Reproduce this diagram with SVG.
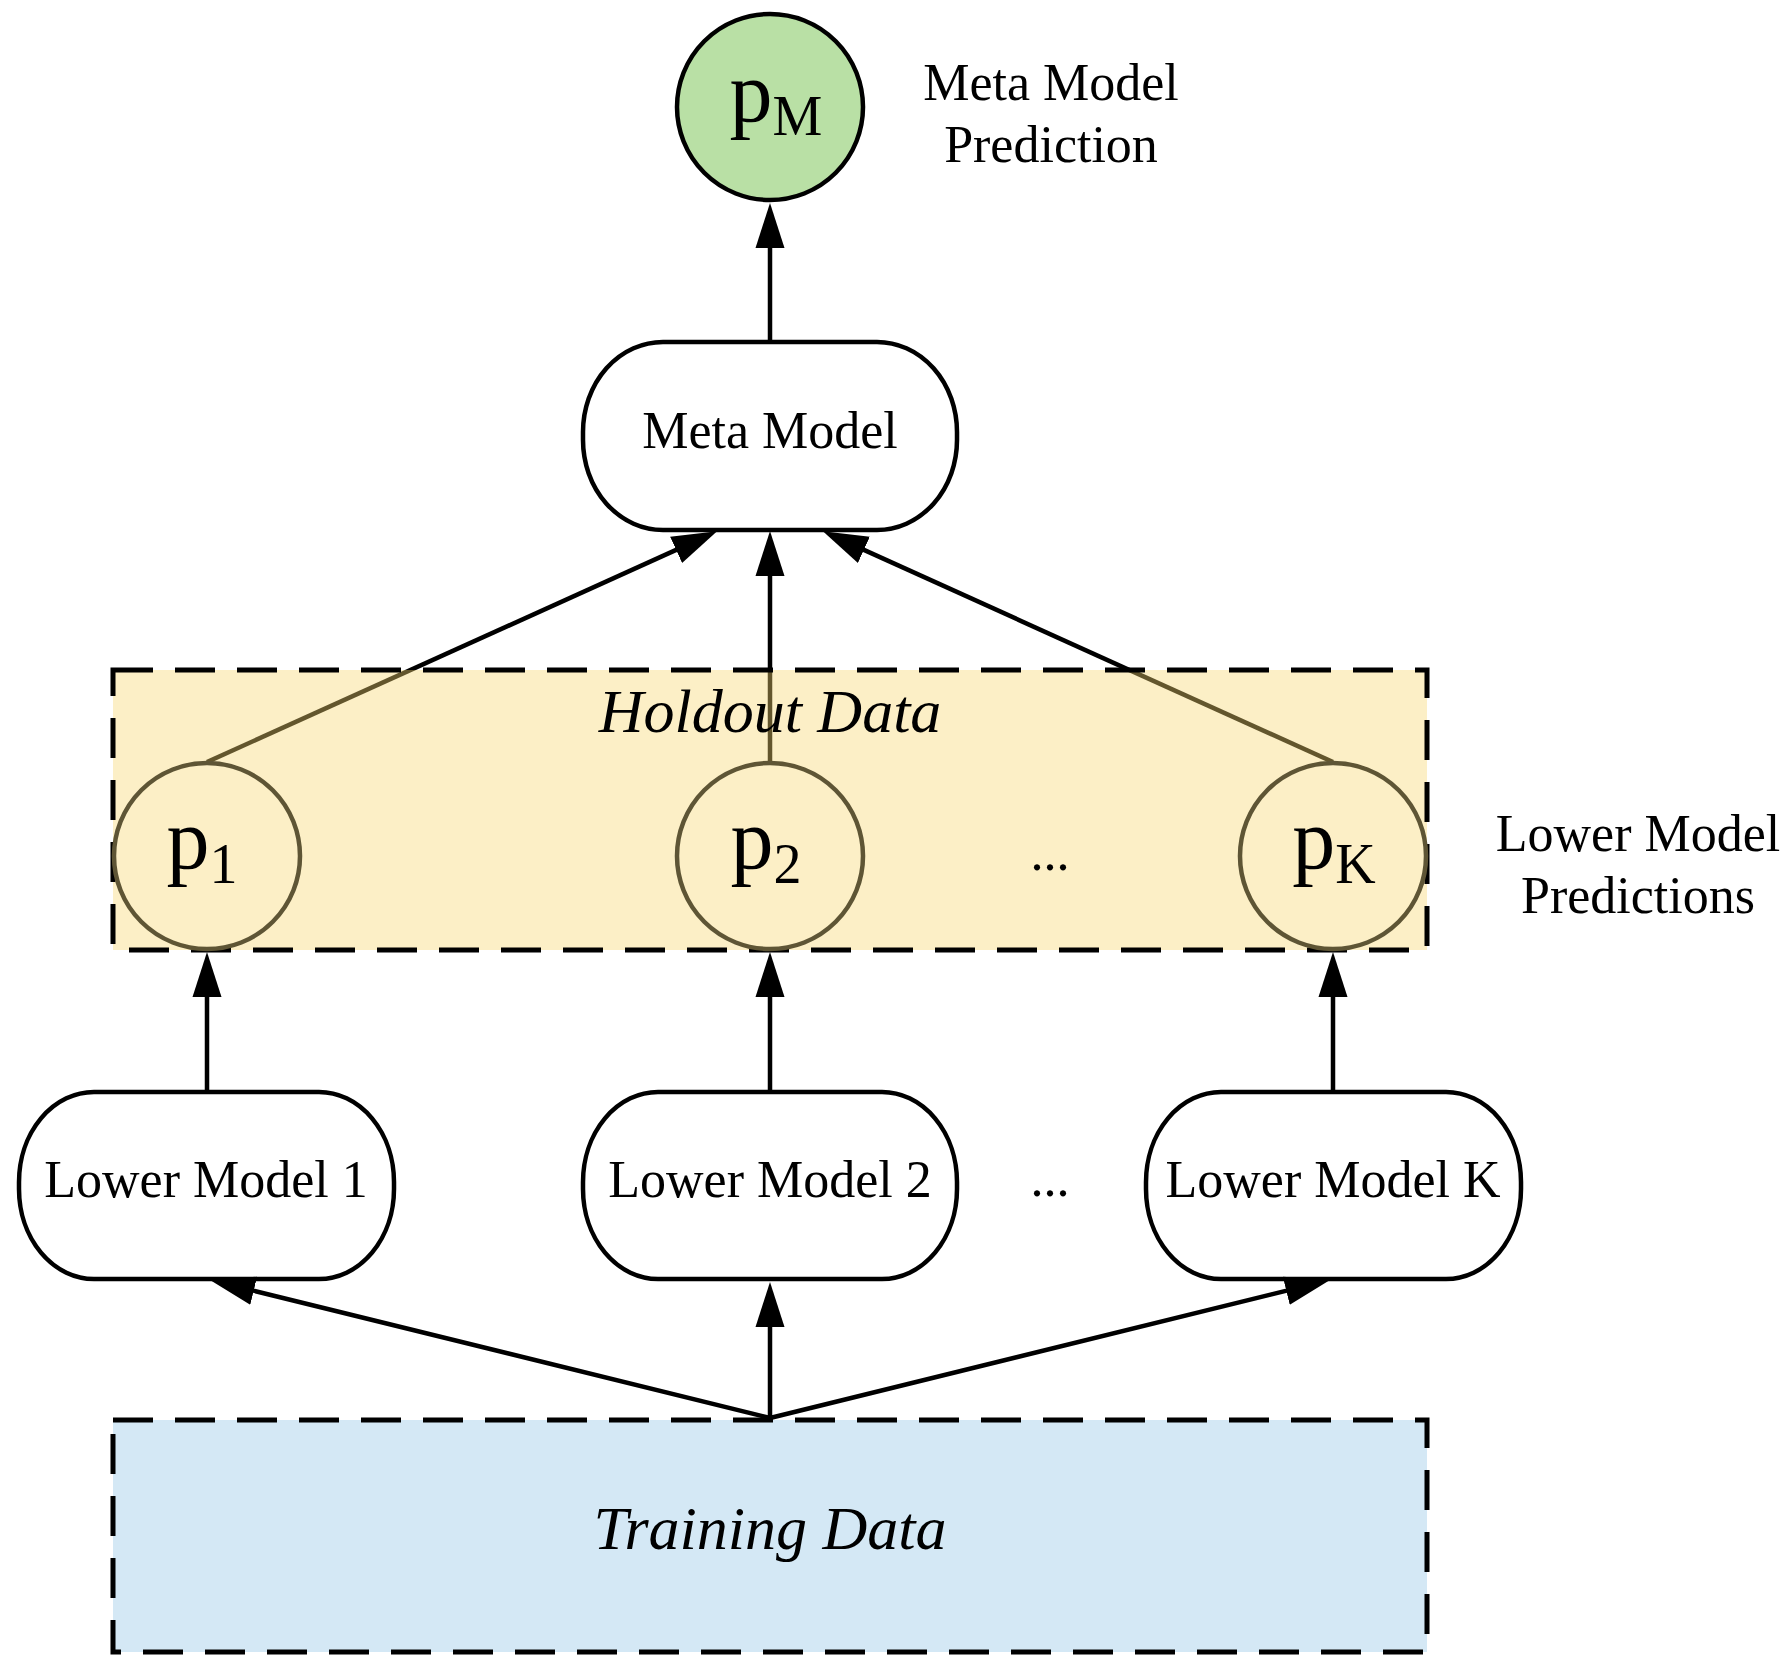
<svg xmlns="http://www.w3.org/2000/svg" width="1790" height="1655" viewBox="0 0 1790 1655">
  <defs>
    <marker id="arrow" markerUnits="userSpaceOnUse" markerWidth="48" markerHeight="32" viewBox="0 0 48 32" refX="34" refY="16" orient="auto">
      <path d="M0,1.5 L45,16 L0,30.5 Z" fill="#000"/>
    </marker>
  </defs>
  <style>
    .t { font-family: "Liberation Serif", "Times New Roman", serif; fill: #000; }
    .lbl { font-size: 52px; text-anchor: middle; }
    .it { font-size: 62px; font-style: italic; text-anchor: middle; }
    .pv { font-size: 86px; text-anchor: middle; }
    .sub { font-size: 56px; }
    .box { fill: #fff; stroke: #000; stroke-width: 4.5; }
    .dash { fill: none; stroke: #000; stroke-width: 5; stroke-dasharray: 40 22; }
    .edge { fill: none; stroke: #000; stroke-width: 4.5; marker-end: url(#arrow); }
    .pc { fill: #fcefc6; stroke: #5e5535; stroke-width: 4.5; }
  </style>
  <rect width="1790" height="1655" fill="#fff"/>

  <g id="training">
    <rect x="113" y="1420" width="1314" height="232" fill="#d4e8f5"/>
    <rect x="113" y="1420" width="1314" height="232" class="dash"/>
    <text class="t it" x="770" y="1549">Training Data</text>
  </g>

  <g id="lower1">
    <rect x="19" y="1092" width="375" height="187" rx="75" ry="90" class="box"/>
    <text class="t lbl" x="206" y="1197">Lower Model 1</text>
  </g>
  <g id="lower2">
    <rect x="583" y="1092" width="374" height="187" rx="75" ry="90" class="box"/>
    <text class="t lbl" x="770" y="1197">Lower Model 2</text>
  </g>
  <g id="lowerK">
    <rect x="1146" y="1092" width="375" height="187" rx="75" ry="90" class="box"/>
    <text class="t lbl" x="1333" y="1197">Lower Model K</text>
  </g>
  <g id="dots-lower">
    <text class="t lbl" x="1050" y="1196">...</text>
  </g>

  <g id="meta">
    <rect x="583" y="342" width="374" height="188" rx="80" ry="90" class="box"/>
    <text class="t lbl" x="770" y="448">Meta Model</text>
  </g>

  <g id="pM">
    <circle cx="770" cy="107" r="93" fill="#b9e0a5" stroke="#000" stroke-width="4.5"/>
    <text class="t pv" x="776" y="121">p<tspan class="sub" dy="14">M</tspan></text>
  </g>

  <g id="connectors">
    <line class="edge" x1="770" y1="342" x2="770" y2="214"/>
    <line class="edge" x1="207" y1="762" x2="707.1" y2="535.9"/>
    <line class="edge" x1="770" y1="762" x2="770" y2="542"/>
    <line class="edge" x1="1333" y1="762" x2="832.9" y2="535.9"/>
    <line class="edge" x1="207" y1="1092" x2="207" y2="963"/>
    <line class="edge" x1="770" y1="1092" x2="770" y2="963"/>
    <line class="edge" x1="1333" y1="1092" x2="1333" y2="963"/>
    <line class="edge" x1="770" y1="1418" x2="220.7" y2="1282.6"/>
    <line class="edge" x1="770" y1="1418" x2="770" y2="1293"/>
    <line class="edge" x1="770" y1="1418" x2="1319.3" y2="1282.6"/>
  </g>

  <g id="holdout">
    <rect x="113" y="670" width="1314" height="280" fill="#f8d770" fill-opacity="0.4"/>
    <rect x="113" y="670" width="1314" height="280" class="dash"/>
    <text class="t it" x="770" y="732">Holdout Data</text>
  </g>

  <g id="p1">
    <circle cx="207" cy="856" r="93" class="pc"/>
    <text class="t pv" x="202" y="868">p<tspan class="sub" dy="15">1</tspan></text>
  </g>
  <g id="p2">
    <circle cx="770" cy="856" r="93" class="pc"/>
    <text class="t pv" x="766" y="868">p<tspan class="sub" dy="15">2</tspan></text>
  </g>
  <g id="pK">
    <circle cx="1333" cy="856" r="93" class="pc"/>
    <text class="t pv" x="1334" y="868">p<tspan class="sub" dy="15">K</tspan></text>
  </g>
  <g id="dots-pred">
    <text class="t lbl" x="1050" y="870">...</text>
  </g>

  <g id="label-meta-pred">
    <text class="t lbl" x="1051" y="100">Meta Model</text>
    <text class="t lbl" x="1051" y="162">Prediction</text>
  </g>
  <g id="label-lower-pred">
    <text class="t lbl" x="1638" y="851">Lower Model</text>
    <text class="t lbl" x="1638" y="913">Predictions</text>
  </g>
</svg>
